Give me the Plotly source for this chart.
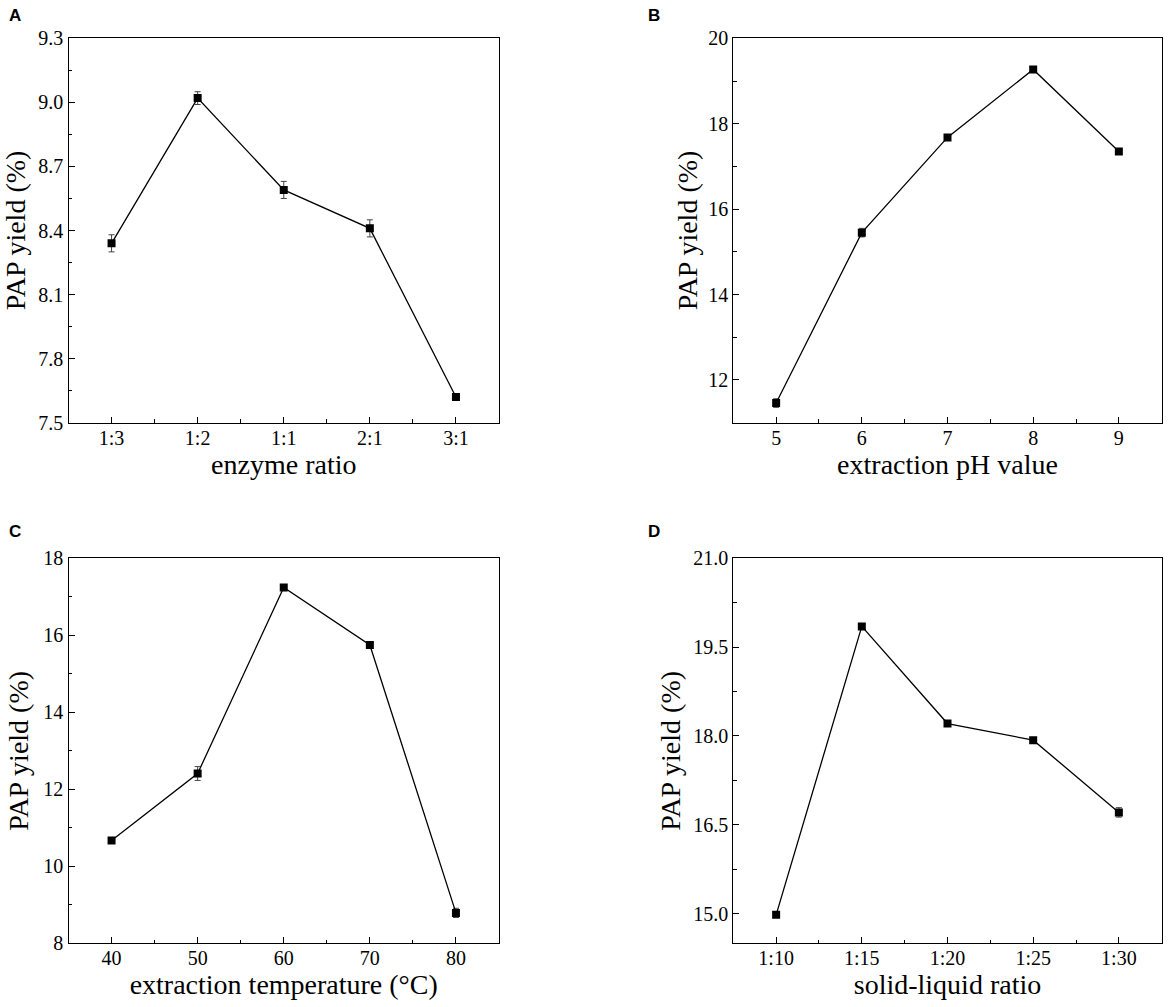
import plotly.graph_objects as go

# Panel A - enzyme ratio
enzyme_ratio = ["1:3", "1:2", "1:1", "2:1", "3:1"]
yield_a = [8.34, 9.02, 8.59, 8.41, 7.62]
err_a = [0.04, 0.03, 0.04, 0.04, 0.01]

# Panel B - extraction pH
ph_value = [5, 6, 7, 8, 9]
yield_b = [11.46, 15.45, 17.68, 19.27, 17.35]
err_b = [0.10, 0.10, 0.05, 0.05, 0.07]

# Panel C - extraction temperature
temperature = [40, 50, 60, 70, 80]
yield_c = [10.67, 12.41, 17.24, 15.75, 8.79]
err_c = [0.05, 0.18, 0.05, 0.05, 0.12]

# Panel D - solid-liquid ratio
solid_liquid = ["1:10", "1:15", "1:20", "1:25", "1:30"]
yield_d = [14.98, 19.85, 18.21, 17.93, 16.71]
err_d = [0.03, 0.03, 0.03, 0.03, 0.08]

W, H = 1170, 1007
SERIF = "Liberation Serif, Times New Roman, serif"

fig = go.Figure()


def add_panel(n, x, y, err):
    sfx = "" if n == 1 else str(n)
    fig.add_trace(go.Scatter(
        x=x, y=y, mode="lines+markers",
        xaxis="x" + sfx, yaxis="y" + sfx,
        line=dict(color="black", width=1.3),
        marker=dict(symbol="square", size=8, color="black"),
        error_y=dict(type="data", array=err, color="#444444", thickness=1, width=3),
        showlegend=False,
    ))


add_panel(1, list(range(len(enzyme_ratio))), yield_a, err_a)
add_panel(2, ph_value, yield_b, err_b)
add_panel(3, temperature, yield_c, err_c)
add_panel(4, list(range(len(solid_liquid))), yield_d, err_d)

# pixel frames of the four plot areas
left_dom = [68.5 / W, 499 / W]
right_dom = [733.3 / W, 1161.7 / W]
top_dom = [1 - 422.7 / H, 1 - 38.3 / H]
bot_dom = [1 - 943.3 / H, 1 - 558.3 / H]

common = dict(
    showline=True, linecolor="black", linewidth=1.3, mirror=True,
    ticks="inside", ticklen=6, tickwidth=1.2, tickcolor="black",
    showgrid=False, zeroline=False, automargin=False,
    tickfont=dict(family=SERIF, size=20, color="black"),
)


def xax(dom, anchor, rng, title, **kw):
    return dict(common, domain=dom, anchor=anchor, range=rng, ticklabelstandoff=-3,
                title=dict(text=title, font=dict(family=SERIF, size=28, color="black"), standoff=4),
                **kw)


def yax(dom, anchor, rng, dtick, minor, standoff, tick0=0, fmt=None):
    d = dict(common, domain=dom, anchor=anchor, range=rng, dtick=dtick, tick0=tick0,
             ticklabelstandoff=0,
             minor=dict(ticks="inside", ticklen=3.5, tickwidth=1.2, tickcolor="black",
                        dtick=minor, tick0=tick0, showgrid=False),
             title=dict(text="PAP yield (%)", font=dict(family=SERIF, size=28, color="black"),
                        standoff=standoff))
    if fmt:
        d["tickformat"] = fmt
    return d


xminor_cat = dict(ticks="inside", ticklen=3.5, tickwidth=1.2, tickcolor="black",
                  tickmode="linear", tick0=0, dtick=0.5, showgrid=False)

fig.update_layout(
    width=W, height=H,
    margin=dict(l=0, r=0, t=0, b=0, autoexpand=False),
    paper_bgcolor="white", plot_bgcolor="white",
    xaxis=xax(left_dom, "y", [-0.5, 4.5], "enzyme ratio",
              tickmode="array", tickvals=list(range(len(enzyme_ratio))), ticktext=enzyme_ratio,
              minor=xminor_cat),
    yaxis=yax(top_dom, "x", [7.5, 9.3], 0.3, 0.15, 8, tick0=7.5, fmt=".1f"),
    xaxis2=xax(right_dom, "y2", [4.5, 9.5], "extraction pH value",
               dtick=1, minor=dict(xminor_cat, tick0=5)),
    yaxis2=yax(top_dom, "x2", [11, 20], 2, 1, 2),
    xaxis3=xax(left_dom, "y3", [35, 85], "extraction temperature (°C)",
               dtick=10, minor=dict(xminor_cat, dtick=5, tick0=40)),
    yaxis3=yax(bot_dom, "x3", [8, 18], 2, 1, 6),
    xaxis4=xax(right_dom, "y4", [-0.5, 4.5], "solid-liquid ratio",
               tickmode="array", tickvals=list(range(len(solid_liquid))), ticktext=solid_liquid,
               minor=xminor_cat),
    yaxis4=yax(bot_dom, "x4", [14.5, 21], 1.5, 0.75, 4, tick0=15, fmt=".1f"),
)

for label, px, py in [("A", 14.5, 15.5), ("B", 654, 15.5), ("C", 14.5, 531.5), ("D", 654, 531.5)]:
    fig.add_annotation(text="<b>" + label + "</b>", xref="paper", yref="paper",
                       x=px / W, y=1 - py / H, xanchor="center", yanchor="middle",
                       showarrow=False,
                       font=dict(family="Liberation Sans, Arial, sans-serif", size=17, color="black"))

# drop the default page margin so the figure sits at the window origin
fig.write_html("out.html", config={"displayModeBar": False},
               post_script="document.body.style.margin='0px';")
